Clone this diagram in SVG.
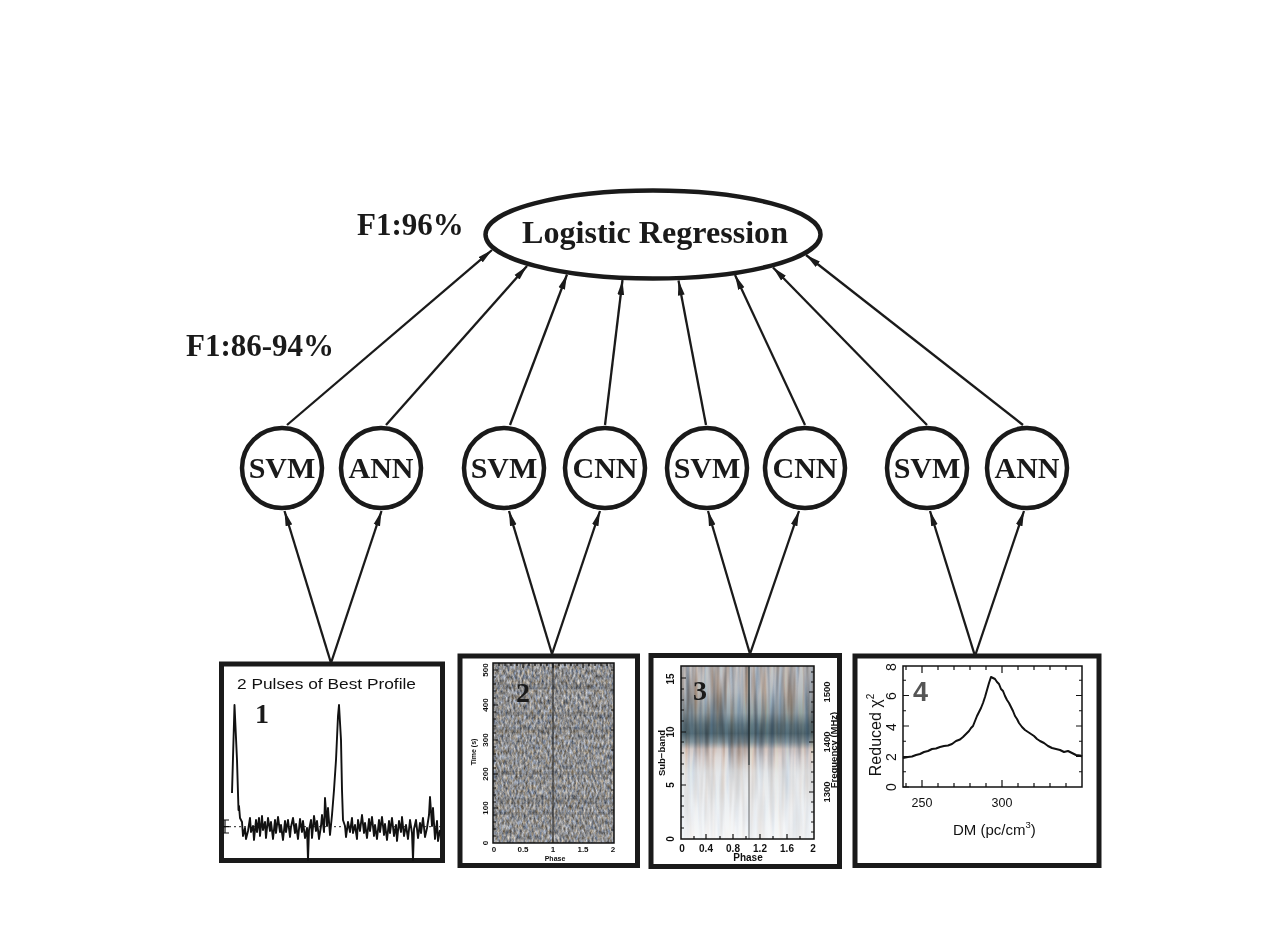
<svg xmlns="http://www.w3.org/2000/svg" width="1262" height="940" viewBox="0 0 1262 940">
<style>
.t{font-family:"Liberation Serif","Times New Roman",serif;font-weight:bold;fill:#1a1a1a}
.node{fill:#fff;stroke:#1a1a1a;stroke-width:4.5}
.edge{stroke:#1a1a1a;stroke-width:2.3;fill:none;marker-end:url(#ah)}
.box{fill:#fff;stroke:#1a1a1a;stroke-width:5}
.ax{font-family:"Liberation Sans",Arial,sans-serif;fill:#111}
.axb{font-family:"Liberation Sans",Arial,sans-serif;font-weight:bold;fill:#111}
.tk{stroke:#111;stroke-width:1.2;fill:none}
.frm{fill:none;stroke:#111;stroke-width:1.5}
</style>
<defs>
<marker id="ah" markerUnits="userSpaceOnUse" markerWidth="16" markerHeight="8" refX="15" refY="4" orient="auto"><path d="M0,0.6 L15,4 L0,7.4 z" fill="#1a1a1a"/></marker>
<filter id="noise2" x="0" y="0" width="1" height="1" color-interpolation-filters="sRGB">
<feTurbulence type="fractalNoise" baseFrequency="0.5 0.2" numOctaves="3" seed="7"/>
<feColorMatrix type="matrix" values="0.8 0.15 -0.15 0 0.16  0.8 0.04 -0.04 0 0.16  0.8 -0.12 0.15 0 0.15  0 0 0 0 1"/>
</filter>
<filter id="streak3" x="0" y="0" width="1" height="1" color-interpolation-filters="sRGB">
<feTurbulence type="fractalNoise" baseFrequency="0.2 0.015" numOctaves="2" seed="3"/>
<feColorMatrix type="matrix" values="0.9 0.35 0 0 0.25  0.9 0 0 0 0.4  0.9 -0.3 0 0 0.55  0 0 0 0 1"/>
</filter>
<linearGradient id="g3" x1="0" y1="0" x2="0" y2="1">
<stop offset="0" stop-color="#c6c8c9"/>
<stop offset="0.15" stop-color="#b8bdc0"/>
<stop offset="0.27" stop-color="#95a5ac"/>
<stop offset="0.34" stop-color="#627b86"/>
<stop offset="0.39" stop-color="#546e79"/>
<stop offset="0.44" stop-color="#83959d"/>
<stop offset="0.48" stop-color="#d3cbc8"/>
<stop offset="0.53" stop-color="#dedad9"/>
<stop offset="0.62" stop-color="#e5e8ea"/>
<stop offset="0.82" stop-color="#eef1f3"/>
<stop offset="1" stop-color="#f7f8f9"/>
</linearGradient>
<linearGradient id="m3g" x1="0" y1="0" x2="0" y2="1">
<stop offset="0" stop-color="#fff" stop-opacity="0.9"/>
<stop offset="0.45" stop-color="#fff" stop-opacity="0.8"/>
<stop offset="0.6" stop-color="#fff" stop-opacity="0.3"/>
<stop offset="1" stop-color="#fff" stop-opacity="0.15"/>
</linearGradient>
<mask id="m3" maskUnits="userSpaceOnUse" x="680" y="666" width="135" height="174"><rect x="680" y="666" width="135" height="174" fill="url(#m3g)"/></mask>
</defs>

<rect width="1262" height="940" fill="#fff"/>

<g id="labels">
<text class="t" x="357" y="235" font-size="31">F1:96%</text>
<text class="t" x="186" y="356" font-size="31">F1:86-94%</text>
</g>

<g id="connectors">
<path class="edge" d="M331,663 L284.5,511"/>
<path class="edge" d="M331,663 L381.5,511"/>
<path class="edge" d="M552,654 L509,511"/>
<path class="edge" d="M552,654 L600,511"/>
<path class="edge" d="M750,654 L708,511"/>
<path class="edge" d="M750,654 L799,511"/>
<path class="edge" d="M975,656 L930,511"/>
<path class="edge" d="M975,656 L1024,511"/>
<path class="edge" d="M287,425 L492,250"/>
<path class="edge" d="M386,425 L527,266"/>
<path class="edge" d="M510,425 L567,274.5"/>
<path class="edge" d="M605,425 L622.5,280"/>
<path class="edge" d="M706,425 L678.5,280.5"/>
<path class="edge" d="M805,425 L735,275"/>
<path class="edge" d="M927,425 L773,267.5"/>
<path class="edge" d="M1023,425 L806,255"/>
</g>

<g id="logistic">
<ellipse class="node" cx="653" cy="234.5" rx="167.5" ry="44" stroke-width="5"/>
<text class="t" x="655" y="243" font-size="32" text-anchor="middle" textLength="266" lengthAdjust="spacingAndGlyphs">Logistic Regression</text>
</g>

<g id="svm1"><circle class="node" cx="282" cy="468" r="40"/><text class="t" x="282" y="478" font-size="30" text-anchor="middle">SVM</text></g>
<g id="ann1"><circle class="node" cx="381" cy="468" r="40"/><text class="t" x="381" y="478" font-size="30" text-anchor="middle">ANN</text></g>
<g id="svm2"><circle class="node" cx="504" cy="468" r="40"/><text class="t" x="504" y="478" font-size="30" text-anchor="middle">SVM</text></g>
<g id="cnn2"><circle class="node" cx="605" cy="468" r="40"/><text class="t" x="605" y="478" font-size="30" text-anchor="middle">CNN</text></g>
<g id="svm3"><circle class="node" cx="707" cy="468" r="40"/><text class="t" x="707" y="478" font-size="30" text-anchor="middle">SVM</text></g>
<g id="cnn3"><circle class="node" cx="805" cy="468" r="40"/><text class="t" x="805" y="478" font-size="30" text-anchor="middle">CNN</text></g>
<g id="svm4"><circle class="node" cx="927" cy="468" r="40"/><text class="t" x="927" y="478" font-size="30" text-anchor="middle">SVM</text></g>
<g id="ann4"><circle class="node" cx="1027" cy="468" r="40"/><text class="t" x="1027" y="478" font-size="30" text-anchor="middle">ANN</text></g>

<g id="box1">
<rect class="box" x="221.5" y="664" width="221" height="196.5"/>
<text class="ax" x="237" y="689" font-size="15" textLength="179" lengthAdjust="spacingAndGlyphs">2 Pulses of Best Profile</text>
<text class="t" x="255" y="723" font-size="28" fill="#111">1</text>
<line x1="224" y1="826.7" x2="440" y2="826.7" stroke="#222" stroke-width="1" stroke-dasharray="2 3"/>
<path class="tk" d="M223,820 H229 M223,826.7 H229 M223,833 H229 M225,820 V833"/>
<path fill="none" stroke="#111" stroke-width="1.9" stroke-linejoin="round" d="M232,793 L234.5,705 L237,760 L238.5,810 L239,806 L240,818 L242,822 L243,836 L245,828 L246,839 L248,831 L250,818 L251,832 L253,826 L254,840 L256,820 L257,832 L259,818 L260,836 L262,816 L263,830 L265,822 L266,838 L268,818 L270,831 L271,822 L273,839 L275,820 L276,833 L278,817 L280,832 L281,825 L283,840 L285,821 L286,832 L288,820 L290,837 L291,827 L293,818 L295,833 L296,824 L298,839 L300,819 L302,832 L303,821 L305,838 L307,828 L308,860 L309,830 L311,820 L312,838 L314,816 L316,831 L317,821 L319,839 L321,826 L322,815 L324,832 L325,798 L327,826 L328,808 L330,835 L332,815 L334,790 L336,760 L338,716 L339,705 L341,740 L342,790 L343,820 L345,826 L346,837 L348,822 L350,832 L352,818 L353,833 L355,825 L357,839 L358,820 L360,831 L362,815 L364,833 L365,823 L367,838 L369,819 L370,831 L372,817 L374,836 L375,825 L377,839 L379,820 L380,832 L382,817 L384,835 L385,824 L387,840 L389,821 L390,833 L392,818 L394,836 L396,825 L397,841 L399,821 L401,832 L402,817 L404,836 L406,825 L408,839 L410,820 L412,833 L413,860 L414,829 L416,820 L418,838 L420,823 L421,833 L423,818 L425,837 L427,828 L429,815 L430,797 L432,826 L433,808 L435,839 L437,821 L438,841 L440,830"/>
</g>

<g id="box2">
<rect class="box" x="460" y="656" width="177.5" height="209.5"/>
<rect x="493" y="663" width="121" height="180" fill="#8c8f8f" filter="url(#noise2)"/>
<g fill="#222" opacity="0.12">
<rect x="493" y="684" width="121" height="5"/>
<rect x="493" y="712" width="121" height="4"/>
<rect x="493" y="727" width="121" height="6"/>
<rect x="493" y="771" width="121" height="4"/>
<rect x="493" y="798" width="121" height="6"/>
<rect x="493" y="812" width="121" height="3"/>
</g>
<line x1="553" y1="663" x2="553" y2="843" stroke="#2a2a2a" stroke-width="1.6" opacity="0.7"/>
<rect class="frm" x="493" y="663" width="121" height="180"/>
<path class="tk" d="M499,663 v3 M505,663 v3 M511,663 v3 M517,663 v3 M523,663 v5 M529,663 v3 M535,663 v3 M541,663 v3 M547,663 v3 M553,663 v5 M559,663 v3 M565,663 v3 M571,663 v3 M577,663 v3 M583,663 v5 M589,663 v3 M595,663 v3 M601,663 v3 M607,663 v3 M493,670 h5 M493,705 h5 M493,740 h5 M493,774 h5 M493,808 h5 M493,677 h3 M493,684 h3 M493,691 h3 M493,698 h3 M493,712 h3 M493,719 h3 M493,726 h3 M493,733 h3 M493,747 h3 M493,754 h3 M493,761 h3 M493,768 h3 M493,781 h3 M493,788 h3 M493,795 h3 M493,802 h3 M493,815 h3 M493,822 h3 M493,829 h3 M493,836 h3 M614,670 h-3 M614,690 h-3 M614,710 h-3 M614,730 h-3 M614,750 h-3 M614,770 h-3 M614,790 h-3 M614,810 h-3 M614,830 h-3"/>
<g class="axb" font-size="8" text-anchor="middle">
<text transform="translate(488,670) rotate(-90)">500</text>
<text transform="translate(488,705) rotate(-90)">400</text>
<text transform="translate(488,740) rotate(-90)">300</text>
<text transform="translate(488,774) rotate(-90)">200</text>
<text transform="translate(488,808) rotate(-90)">100</text>
<text transform="translate(488,843) rotate(-90)">0</text>
<text transform="translate(476,752) rotate(-90)" font-size="7">Time (s)</text>
<text x="494" y="852">0</text>
<text x="523" y="852">0.5</text>
<text x="553" y="852">1</text>
<text x="583" y="852">1.5</text>
<text x="613" y="852">2</text>
<text x="555" y="861" font-size="7">Phase</text>
</g>
<text class="t" x="516" y="702" font-size="28" fill="#333">2</text>
</g>

<g id="box3">
<rect class="box" x="651" y="655.5" width="188.5" height="211"/>
<rect x="681" y="666" width="133" height="173" fill="url(#g3)"/>
<rect x="681" y="666" width="133" height="173" fill="#999" filter="url(#streak3)" mask="url(#m3)" style="mix-blend-mode:multiply"/>
<line x1="749" y1="666" x2="749" y2="765" stroke="#1f2a2e" stroke-width="1.6" opacity="0.8"/>
<line x1="749" y1="765" x2="749" y2="839" stroke="#333" stroke-width="1.4" opacity="0.5"/>
<rect class="frm" x="681" y="666" width="133" height="173"/>
<path class="tk" d="M681,678 h5 M681,732 h5 M681,785 h5 M681,689 h3 M681,700 h3 M681,710 h3 M681,721 h3 M681,742 h3 M681,753 h3 M681,764 h3 M681,774 h3 M681,796 h3 M681,806 h3 M681,817 h3 M681,828 h3 M814,692 h-5 M814,742 h-5 M814,792 h-5 M814,672 h-3 M814,682 h-3 M814,702 h-3 M814,712 h-3 M814,722 h-3 M814,732 h-3 M814,752 h-3 M814,762 h-3 M814,772 h-3 M814,782 h-3 M814,802 h-3 M814,812 h-3 M814,822 h-3 M814,832 h-3 M694,839 v-3 M706,839 v-5 M720,839 v-3 M733,839 v-5 M746,839 v-3 M760,839 v-5 M773,839 v-3 M787,839 v-5 M800,839 v-3"/>
<g class="axb" font-size="10" text-anchor="middle">
<text transform="translate(674,679) rotate(-90)">15</text>
<text transform="translate(674,732) rotate(-90)">10</text>
<text transform="translate(674,785) rotate(-90)">5</text>
<text transform="translate(674,839) rotate(-90)">0</text>
<text transform="translate(665,753) rotate(-90)" font-size="9.5">Sub−band</text>
<text transform="translate(830,692) rotate(-90)" font-size="9.5">1500</text>
<text transform="translate(830,742) rotate(-90)" font-size="9.5">1400</text>
<text transform="translate(830,792) rotate(-90)" font-size="9.5">1300</text>
<text transform="translate(837,750) rotate(-90)" font-size="9.5">Frequency (MHz)</text>
<text x="682" y="852">0</text>
<text x="706" y="852">0.4</text>
<text x="733" y="852">0.8</text>
<text x="760" y="852">1.2</text>
<text x="787" y="852">1.6</text>
<text x="813" y="852">2</text>
<text x="748" y="861">Phase</text>
</g>
<text class="t" x="693" y="700" font-size="28" fill="#111">3</text>
</g>

<g id="box4">
<rect class="box" x="855" y="656" width="244" height="209.5"/>
<rect class="frm" x="903" y="666" width="179" height="121"/>
<path class="tk" d="M903,787 h6 M903,756.5 h6 M903,726 h6 M903,695.5 h6 M903,771.75 h3 M903,741.25 h3 M903,710.75 h3 M903,680.25 h3 M1082,756.5 h-6 M1082,726 h-6 M1082,695.5 h-6 M1082,771.75 h-3 M1082,741.25 h-3 M1082,710.75 h-3 M1082,680.25 h-3 M906,787 v-4 M922,787 v-7 M938,787 v-4 M954,787 v-4 M970,787 v-4 M986,787 v-4 M1002,787 v-7 M1018,787 v-4 M1034,787 v-4 M1050,787 v-4 M1066,787 v-4 M906,666 v4 M922,666 v7 M938,666 v4 M954,666 v4 M970,666 v4 M986,666 v4 M1002,666 v7 M1018,666 v4 M1034,666 v4 M1050,666 v4 M1066,666 v4"/>
<path fill="none" stroke="#111" stroke-width="2" stroke-linejoin="round" d="M903,758 L908,757 L912,756.5 L916,755 L920,754 L924,752 L928,751 L932,749 L936,748.5 L940,747 L944,746 L948,745.5 L952,744 L956,741 L960,739.5 L963,737 L966,734 L969,731 L971,728 L973,726 L975,721 L977,716 L979,712 L981,708 L983,703 L985,697 L987,690 L989,683 L991,677 L993,678 L995,679 L997,682 L999,684 L1001,689 L1003,691 L1005,696 L1007,700 L1009,703 L1011,707 L1013,711 L1015,716 L1017,719 L1019,723 L1022,727 L1025,730 L1028,732 L1031,734 L1034,736 L1037,739 L1040,741 L1044,743 L1048,746 L1052,748 L1056,749 L1060,750 L1064,752 L1068,751 L1072,753 L1076,755 L1080,755.5 L1082,756.5"/>
<g class="ax" font-size="14" text-anchor="middle">
<text transform="translate(896,787) rotate(-90)">0</text>
<text transform="translate(896,757) rotate(-90)">2</text>
<text transform="translate(896,727) rotate(-90)">4</text>
<text transform="translate(896,696) rotate(-90)">6</text>
<text transform="translate(896,667) rotate(-90)">8</text>
<text transform="translate(881,735) rotate(-90)" font-size="16">Reduced χ<tspan font-size="10" dy="-7">2</tspan></text>
<text x="922" y="807" font-size="12.5">250</text>
<text x="1002" y="807" font-size="12.5">300</text>
</g>
<text class="ax" x="953" y="835" font-size="15">DM (pc/cm<tspan font-size="9.5" dy="-7">3</tspan><tspan dy="7">)</tspan></text>
<text x="913" y="701" font-family="Liberation Sans,Arial,sans-serif" font-weight="bold" font-size="27" fill="#555">4</text>
</g>
</svg>
